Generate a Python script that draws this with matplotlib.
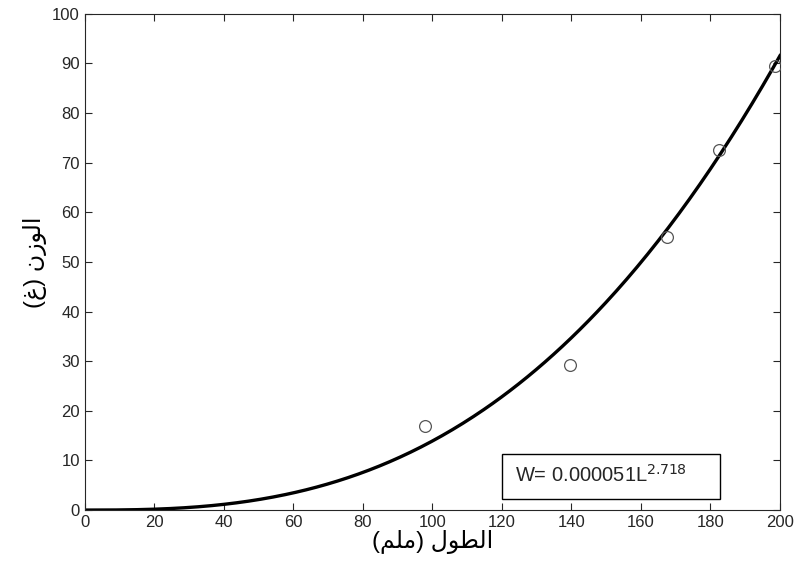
import numpy as np
import matplotlib.pyplot as plt
from matplotlib.patches import Rectangle

# ---- data ----
length_obs = [98, 139.5, 167.5, 182.5, 198.5]   # mm
weight_obs = [17.0, 29.3, 55.0, 72.5, 89.5]     # g

# fitted power law shown in the box: W = a * L^b
coef_a = 0.000051
coef_b = 2.718

x_ticks = list(range(0, 201, 20))
y_ticks = list(range(0, 101, 10))

# Arabic labels, pre-shaped (presentation forms, visual order)
xlabel_txt = "(\uFEE2\uFEE0\uFEE3) \uFEDD\uFEEE\uFEC4\uFEDF\uFE8D"   # الطول (ملم)
ylabel_txt = "(\uFECD) \uFEE5\uFEAF\uFEEE\uFEDF\uFE8D"               # الوزن (غ)

fonts = ['Liberation Sans', 'DejaVu Sans']
plt.rcParams['font.family'] = fonts

fig = plt.figure(figsize=(8, 5.77), dpi=100)
ax = fig.add_axes([0.106, 0.116, 0.869, 0.86])

L = np.linspace(0, 200, 400)
ax.plot(L, coef_a * L ** coef_b, color='black', lw=2.4, zorder=2)
ax.plot(length_obs, weight_obs, linestyle='none', marker='o', ms=8.5,
        mfc='none', mec='#555555', mew=0.9, zorder=3)

ax.set_xlim(0, 200)
ax.set_ylim(0, 100)
ax.set_xticks(x_ticks)
ax.set_yticks(y_ticks)
ax.tick_params(direction='in', length=5, width=0.8, labelsize=12,
               colors='#262626', top=True, right=True)
for s in ax.spines.values():
    s.set_color('#262626')
    s.set_linewidth(0.8)

ax.set_xlabel(xlabel_txt, fontsize=17, family=fonts, labelpad=0)
ax.set_ylabel(ylabel_txt, fontsize=17, family=fonts, labelpad=4)

# equation box (MATLAB-style annotation)
ax.add_patch(Rectangle((120.1, 2.3), 62.6, 9.0, fc='white', ec='black',
                       lw=1.0, zorder=4))
ax.text(123.7, 7.0, r'W= 0.000051L$^{2.718}$', fontsize=14.5,
        va='center', ha='left', color='#262626', zorder=5)

fig.savefig('out.png', dpi=100)
